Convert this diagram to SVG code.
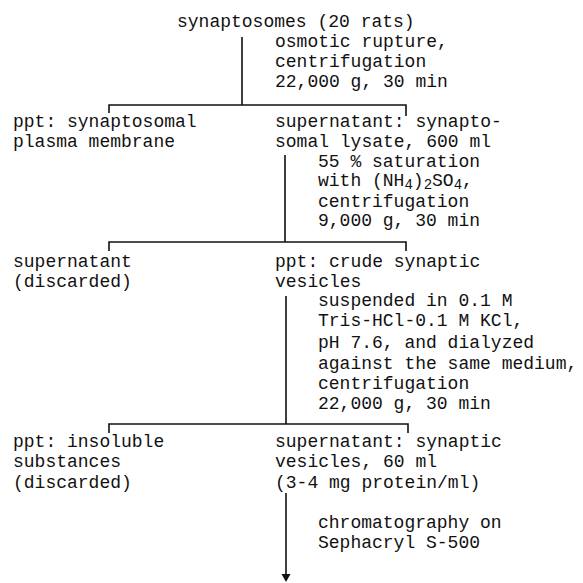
<svg xmlns="http://www.w3.org/2000/svg" width="583" height="583" viewBox="0 0 583 583">
<defs>
<style>
text{font-family:"Liberation Mono","Courier New",monospace;font-size:18px;fill:#111;}
.ln{stroke:#111;stroke-width:1.6;fill:none;}
.sub{font-size:14px;}
</style>
</defs>
<rect width="583" height="583" fill="#fff"/>
<g id="connectors">
<path class="ln" d="M242,37 V105 M109,113 V105 H406 V116"/>
<path class="ln" d="M285,155 V242 M109,251 V242 H406 V251"/>
<path class="ln" d="M286,296 V424 M109,433 V424 H408 V433"/>
<path class="ln" d="M286,493 V575"/>
<polygon points="281.5,574 290.5,574 286,582" fill="#111"/>
</g>
<g id="n-synaptosomes"><text x="177" y="27">synaptosomes (20 rats)</text></g>
<g id="step1"><text x="275" y="47">osmotic rupture,</text><text x="275" y="67">centrifugation</text><text x="275" y="87">22,000 g, 30 min</text></g>
<g id="n-ppt-membrane"><text x="13" y="127">ppt: synaptosomal</text><text x="13" y="147">plasma membrane</text></g>
<g id="n-lysate"><text x="275" y="127">supernatant: synapto-</text><text x="275" y="147">somal lysate, 600 ml</text></g>
<g id="step2"><text x="318" y="167">55 % saturation</text><text x="318" y="186">with (NH<tspan class="sub" dy="3">4</tspan><tspan dy="-3">)</tspan><tspan class="sub" dy="3">2</tspan><tspan dy="-3">SO</tspan><tspan class="sub" dy="3">4</tspan><tspan dy="-3">,</tspan></text><text x="318" y="207">centrifugation</text><text x="318" y="226">9,000 g, 30 min</text></g>
<g id="n-sup-discarded"><text x="13" y="267">supernatant</text><text x="13" y="287">(discarded)</text></g>
<g id="n-crude"><text x="275" y="267">ppt: crude synaptic</text><text x="275" y="287">vesicles</text></g>
<g id="step3"><text x="318" y="306">suspended in 0.1 M</text><text x="318" y="326">Tris-HCl-0.1 M KCl,</text><text x="318" y="348">pH 7.6, and dialyzed</text><text x="318" y="369">against the same medium,</text><text x="318" y="389">centrifugation</text><text x="318" y="409">22,000 g, 30 min</text></g>
<g id="n-insoluble"><text x="13" y="447">ppt: insoluble</text><text x="13" y="467">substances</text><text x="13" y="488">(discarded)</text></g>
<g id="n-vesicles"><text x="275" y="447">supernatant: synaptic</text><text x="275" y="467">vesicles, 60 ml</text><text x="275" y="488">(3-4 mg protein/ml)</text></g>
<g id="step4"><text x="318" y="528">chromatography on</text><text x="318" y="548">Sephacryl S-500</text></g>
</svg>
